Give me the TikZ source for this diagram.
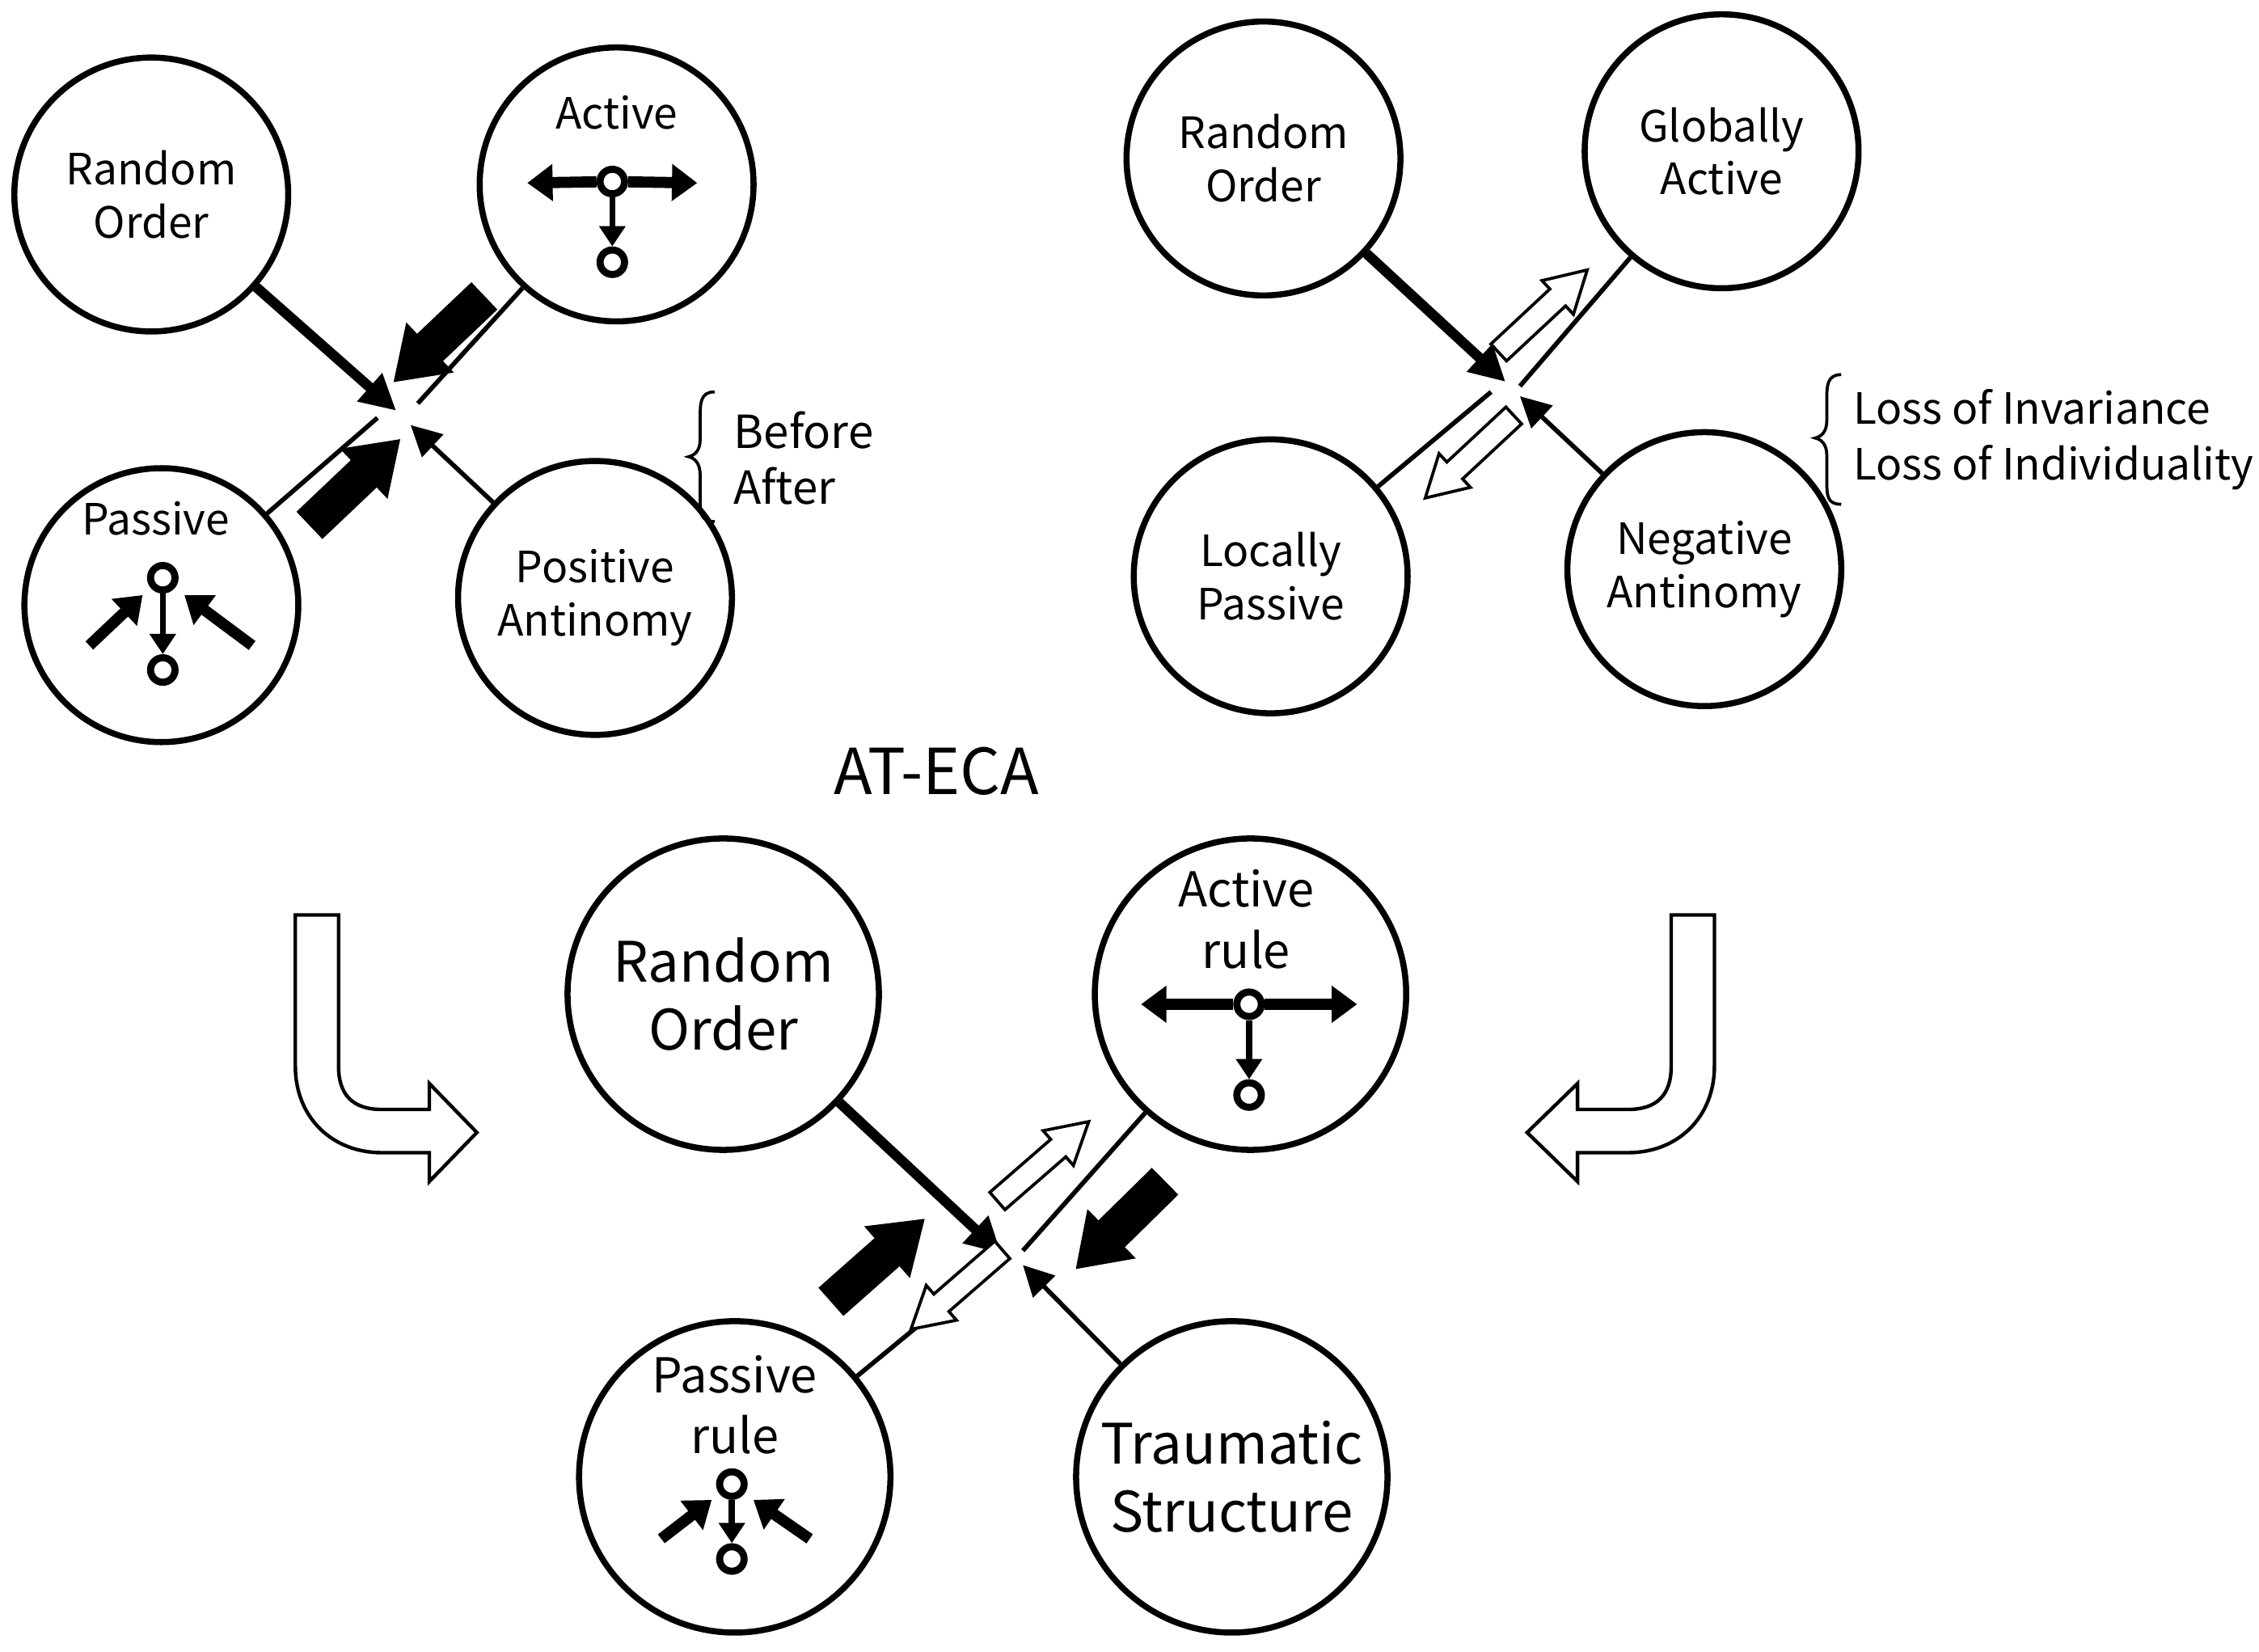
\documentclass[tikz,border=0pt]{standalone}
\usepackage{fontspec}
\setmainfont{Noto Sans CJK JP}
\usetikzlibrary{arrows.meta}
\begin{document}
\begin{tikzpicture}[x=0.01cm,y=-0.01cm,
 circ/.style={circle,draw,line width=1.2pt,minimum size=1.9cm,inner sep=0pt},
 bcirc/.style={circ,minimum size=2.16cm},
 txt/.style={align=center,font=\fontsize{8.5}{10.5}\selectfont},
 btxt/.style={align=center,font=\fontsize{11}{13.5}\selectfont},
 thick/.style={line width=2pt,-{Triangle[length=7pt,width=7pt]}},
 thin/.style={line width=0.9pt},
 thinar/.style={line width=0.9pt,-{Triangle[length=6pt,width=6pt]}},
 fa/.pic={\draw[line width=0.6pt,fill=black] (-42,-12)--(10,-12)--(10,-22)--(42,0)--(10,22)--(10,12)--(-42,12)--cycle;},
 ha/.pic={\draw[line width=0.6pt,fill=white] (-42,-8)--(14,-8)--(14,-16)--(42,0)--(14,16)--(14,8)--(-42,8)--cycle;},
 dot/.style={circle,draw,line width=1.4pt,minimum size=0.17cm,inner sep=0pt},
 ic/.style={line width=2.2pt,-{Triangle[length=5pt,width=7pt]}},
 icd/.style={line width=1.2pt,-{Triangle[length=4pt,width=5pt]}},
 lbl/.style={font=\fontsize{9}{11}\selectfont,align=left,anchor=west}]
\useasboundingbox (0,0) rectangle (1568,1146);
% ---------- top left
\node[circ] (ro1) at (105,135) {};
\node[txt] (ro1t) at (105,135) {Random\\Order};
\node[circ] (ac1) at (428,128) {};
\node[txt] (ac1t) at (428,78) {Active};
\node[circ] (pa1) at (112,420) {};
\node[txt] (pa1t) at (108,360) {Passive};
\node[circ] (pos) at (413,415) {};
\node[txt] (post) at (413,415) {Positive\\Antinomy};
\coordinate (c1) at (275,285);
\draw[thick] (ro1) -- (c1);
\draw[thin] (ac1) -- (290,280);
\draw[thin] (pa1) -- (262,290);
\draw[thinar] (pos) -- (285,295);
\pic[rotate=223.5] (f1) at (305,235) {fa};
\pic[rotate=43.5] (f2) at (246,335) {fa};
\node[dot] (a1) at (425,126) {};
\node[dot] (a2) at (425,182) {};
\coordinate (a1l) at (366,127); \coordinate (a1r) at (484,127);
\draw[ic] (a1) -- (a1l); \draw[ic] (a1) -- (a1r); \draw[icd] (a1) -- (a2);
\node[dot] (p1) at (113,401) {};
\node[dot] (p2) at (113,465) {};
\draw[icd] (p1) -- (p2);
\coordinate (p1a) at (62,448); \coordinate (p1b) at (175,448);
\draw[ic] (p1a) -- (99,413); \draw[ic] (p1b) -- (128,413);
\node[lbl] (ba) at (497,318) {Before\\After};
\draw[line width=0.6pt] (496,272) .. controls (486,272) and (486,280) .. (486,290) -- (486,305) .. controls (486,313) and (482,316) .. (478,317) .. controls (482,318) and (486,321) .. (486,330) -- (486,345) .. controls (486,356) and (486,362) .. (496,362);
% ---------- top right
\node[circ] (ro2) at (877,110) {};
\node[txt] (ro2t) at (877,110) {Random\\Order};
\node[circ] (ga) at (1195,105) {};
\node[txt] (gat) at (1195,105) {Globally\\Active};
\node[circ] (lp) at (882,400) {};
\node[txt] (lpt) at (882,400) {Locally\\Passive};
\node[circ] (na) at (1183,395) {};
\node[txt] (nat) at (1183,395) {Negative\\Antinomy};
\coordinate (c2) at (1045,265);
\draw[thick] (ro2) -- (c2);
\draw[thin] (ga) -- (1055,268);
\draw[thin] (lp) -- (1035,272);
\draw[thinar] (na) -- (1055,275);
\pic[rotate=43] (h1) at (1071,216) {ha};
\pic[rotate=223] (h2) at (1020,317) {ha};
\node[lbl,font=\fontsize{8.5}{11}\selectfont] (ll) at (1274,305) {Loss of Invariance\\Loss of Individuality};
\draw[line width=0.6pt] (1278,260) .. controls (1268,260) and (1268,268) .. (1268,278) -- (1268,292) .. controls (1268,300) and (1264,303) .. (1260,304) .. controls (1264,305) and (1268,308) .. (1268,316) -- (1268,332) .. controls (1268,344) and (1268,350) .. (1278,350);
% ---------- title
\node[font=\fontsize{12.5}{15}\selectfont] (t) at (650,535) {AT-ECA};
% ---------- bottom
\node[bcirc] (ro3) at (502,690) {};
\node[btxt] (ro3t) at (502,690) {Random\\Order};
\node[bcirc] (ar) at (868,690) {};
\node[txt,font=\fontsize{9.5}{12}\selectfont] (art) at (865,638) {Active\\rule};
\node[bcirc] (pr) at (510,1025) {};
\node[txt,font=\fontsize{9.5}{12}\selectfont] (prt) at (510,975) {Passive\\rule};
\node[bcirc] (ts) at (855,1025) {};
\node[btxt] (tst) at (855,1025) {Traumatic\\Structure};
\coordinate (c3) at (695,870);
\draw[thick] (ro3) -- (c3);
\draw[thin] (ar) -- (710,868);
\draw[thin] (pr) -- (680,885);
\draw[thinar] (ts) -- (710,878);
\pic[rotate=41.5] (f3) at (609,875) {fa};
\pic[rotate=224.5] (f4) at (778,850) {fa};
\pic[rotate=41] (h3) at (724,806) {ha};
\pic[rotate=221] (h4) at (664,895) {ha};
\node[dot] (b1) at (867,697) {};
\node[dot] (b2) at (867,760) {};
\coordinate (b1l) at (792,697); \coordinate (b1r) at (942,697);
\draw[ic] (b1) -- (b1l); \draw[ic] (b1) -- (b1r); \draw[icd] (b1) -- (b2);
\node[dot] (q1) at (508,1030) {};
\node[dot] (q2) at (508,1082) {};
\draw[icd] (q1) -- (q2);
\coordinate (q1a) at (459,1068); \coordinate (q1b) at (562,1068);
\draw[ic] (q1a) -- (494,1041); \draw[ic] (q1b) -- (523,1041);
% ---------- bent arrows
\draw[line width=0.7pt,fill=white] (205,635) -- (205,740) .. controls (205,775) and (230,800) .. (265,800) -- (298,800) -- (298,820) -- (331,786) -- (298,752) -- (298,770) -- (265,770) .. controls (245,770) and (235,760) .. (235,740) -- (235,635) -- cycle;
\draw[line width=0.7pt,fill=white] (1190,635) -- (1190,740) .. controls (1190,775) and (1165,800) .. (1130,800) -- (1095,800) -- (1095,820) -- (1060,786) -- (1095,752) -- (1095,770) -- (1130,770) .. controls (1150,770) and (1160,760) .. (1160,740) -- (1160,635) -- cycle;
\end{tikzpicture}
\end{document}
